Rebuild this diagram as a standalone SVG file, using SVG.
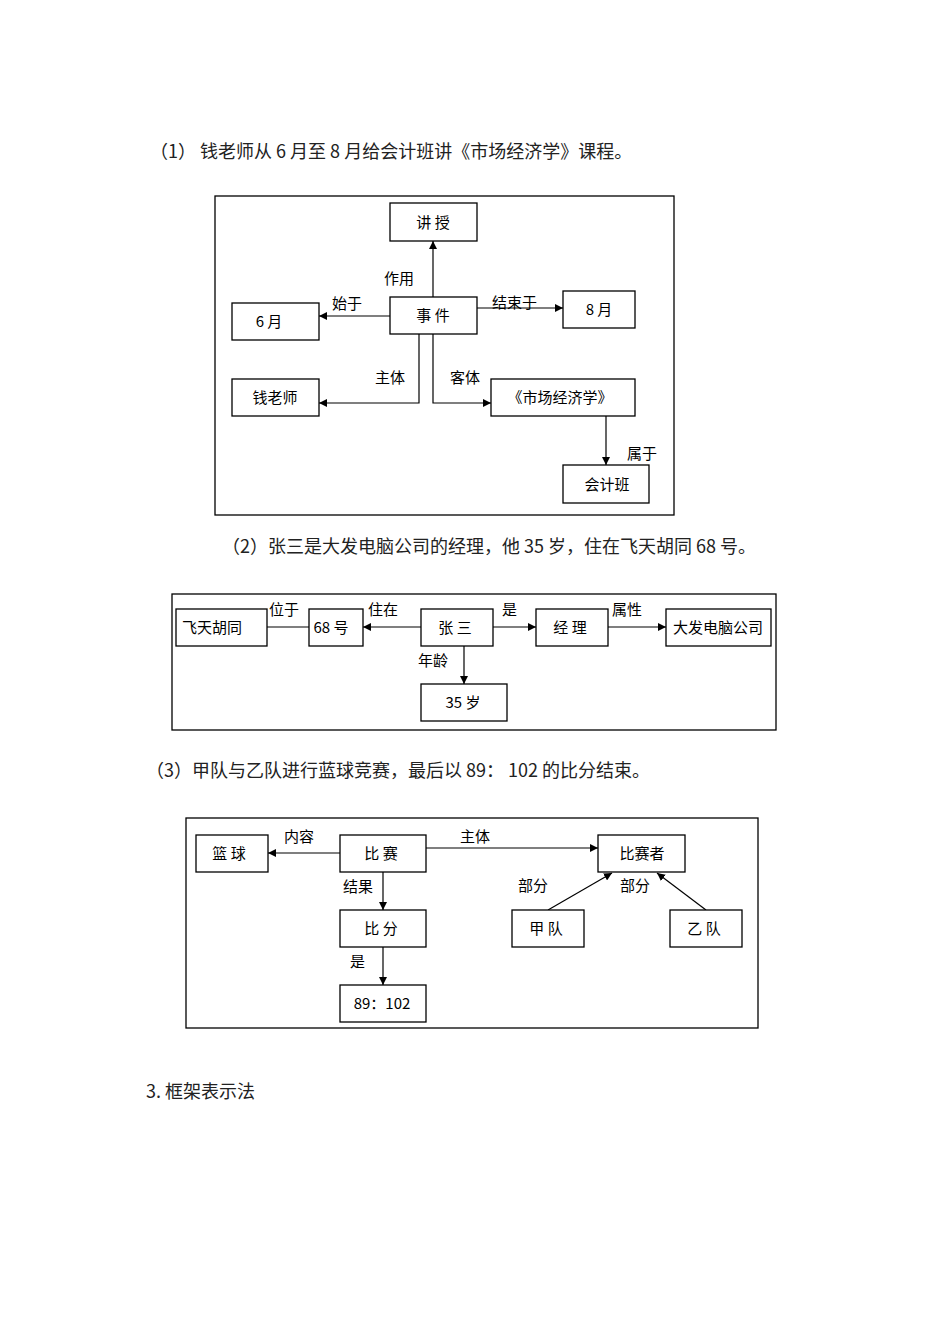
<svg xmlns="http://www.w3.org/2000/svg" width="950" height="1344" viewBox="0 0 950 1344">
<style>
.h{font-family:"Noto Sans CJK SC","Noto Sans",sans-serif;font-size:18px;fill:#222}
.t{font-family:"Noto Sans CJK SC","Liberation Sans",sans-serif;font-size:15px;fill:#000}
.c{text-anchor:middle}
rect.b{fill:#fff;stroke:#000;stroke-width:1.3}
rect.f{fill:none;stroke:#000;stroke-width:1.3}
.ln{fill:none;stroke:#000;stroke-width:1.2;marker-end:url(#a)}
</style>
<defs><marker id="a" viewBox="0 0 10 10" refX="10" refY="5" markerWidth="8" markerHeight="8" markerUnits="userSpaceOnUse" orient="auto"><path d="M0,0L10,5L0,10z" fill="#000"/></marker></defs>
<rect width="950" height="1344" fill="#fff"/>
<text class="h" x="150" y="158">（1）  钱老师从 6 月至 8 月给会计班讲《市场经济学》课程。</text>
<text class="h" x="222" y="553">（2）张三是大发电脑公司的经理，他 35 岁，住在飞天胡同 68 号。</text>
<text class="h" x="146" y="777">（3）甲队与乙队进行蓝球竞赛，最后以 89：  102 的比分结束。</text>
<text class="h" x="146" y="1098">3. 框架表示法</text>
<rect class="f" x="215" y="196" width="459" height="319"/>
<rect class="f" x="172" y="594" width="604" height="136"/>
<rect class="f" x="186" y="818" width="572" height="210"/>
<g id="connectors">
<path class="ln" d="M433,297V241"/>
<path class="ln" d="M390,316H319"/>
<path class="ln" d="M477,308H563"/>
<path class="ln" d="M419,334V403H319"/>
<path class="ln" d="M433,334V403H491"/>
<path class="ln" d="M606,416V465"/>
<path class="ln" d="M309,627H253"/>
<path class="ln" d="M421,627H363"/>
<path class="ln" d="M493,627H536"/>
<path class="ln" d="M608,627H666"/>
<path class="ln" d="M464,646V684"/>
<path class="ln" d="M340,853H268"/>
<path class="ln" d="M426,848H598"/>
<path class="ln" d="M383,872V910"/>
<path class="ln" d="M383,947V985"/>
<path class="ln" d="M548,910L612,873"/>
<path class="ln" d="M706,910L657,873"/>
<g class="t">
<text x="384" y="284">作用</text><text x="332" y="309">始于</text><text x="492" y="308">结束于</text>
<text x="375" y="383">主体</text><text x="450" y="383">客体</text><text x="627" y="459">属于</text>
<text x="269" y="615">位于</text><text x="368" y="615">住在</text><text x="502" y="615">是</text><text x="612" y="615">属性</text><text x="418" y="666">年龄</text>
<text x="284" y="842">内容</text><text x="460" y="842">主体</text><text x="343" y="892">结果</text>
<text x="518" y="891">部分</text><text x="620" y="891">部分</text><text x="350" y="967">是</text>
</g>
</g>
<g class="t c">
<g id="n1"><rect class="b" x="390" y="203" width="87" height="38"/><text x="433" y="228">讲 授</text></g>
<g id="n2"><rect class="b" x="390" y="297" width="87" height="37"/><text x="433" y="321">事 件</text></g>
<g id="n3"><rect class="b" x="232" y="303" width="87" height="37"/><text x="269" y="327">6 月</text></g>
<g id="n4"><rect class="b" x="563" y="291" width="72" height="37"/><text x="599" y="315">8 月</text></g>
<g id="n5"><rect class="b" x="232" y="379" width="87" height="37"/><text x="275" y="403">钱老师</text></g>
<g id="n6"><rect class="b" x="491" y="379" width="144" height="37"/><text x="560" y="403">《市场经济学》</text></g>
<g id="n7"><rect class="b" x="563" y="465" width="86" height="38"/><text x="607" y="490">会计班</text></g>
<g id="n8"><rect class="b" x="176" y="609" width="91" height="37"/><text x="212" y="633">飞天胡同</text></g>
<g id="n9"><rect class="b" x="309" y="609" width="54" height="37"/><text x="331" y="633">68 号</text></g>
<g id="n10"><rect class="b" x="421" y="609" width="72" height="37"/><text x="455" y="633">张 三</text></g>
<g id="n11"><rect class="b" x="536" y="609" width="72" height="37"/><text x="570" y="633">经 理</text></g>
<g id="n12"><rect class="b" x="666" y="609" width="105" height="37"/><text x="718" y="633">大发电脑公司</text></g>
<g id="n13"><rect class="b" x="421" y="684" width="86" height="37"/><text x="463" y="708">35 岁</text></g>
<g id="n14"><rect class="b" x="196" y="835" width="72" height="37"/><text x="229" y="859">篮 球</text></g>
<g id="n15"><rect class="b" x="340" y="835" width="86" height="37"/><text x="381" y="859">比 赛</text></g>
<g id="n16"><rect class="b" x="598" y="835" width="87" height="37"/><text x="642" y="859">比赛者</text></g>
<g id="n17"><rect class="b" x="340" y="910" width="86" height="37"/><text x="381" y="934">比 分</text></g>
<g id="n18"><rect class="b" x="512" y="910" width="72" height="37"/><text x="546" y="934">甲 队</text></g>
<g id="n19"><rect class="b" x="670" y="910" width="72" height="37"/><text x="704" y="934">乙 队</text></g>
<g id="n20"><rect class="b" x="340" y="985" width="86" height="37"/><text x="382" y="1009">89：102</text></g>
</g>
</svg>
